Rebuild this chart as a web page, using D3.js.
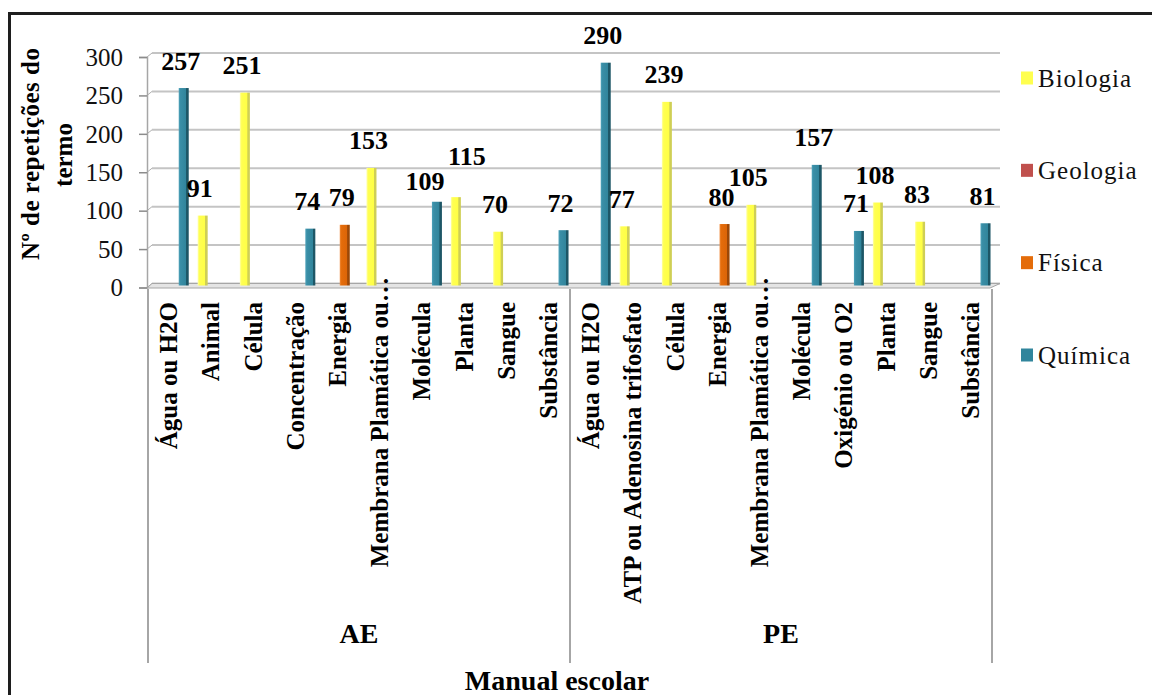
<!DOCTYPE html>
<html>
<head>
<meta charset="utf-8">
<script src="https://cdn.jsdelivr.net/npm/d3@7"></script>
<style>
  body { margin: 0; background: #fff; }
  svg { display: block; }
  text { font-family: "Liberation Serif", "Times New Roman", serif; }
</style>
</head>
<body>
<svg id="chart" width="1152" height="695"></svg>
<script>
// ---- data ----
const manuals = ["AE", "PE"];
const aeTerms = ["Água ou H2O", "Animal", "Célula", "Concentração", "Energia",
  "Membrana Plamática ou…", "Molécula", "Planta", "Sangue", "Substância"];
const peTerms = ["Água ou H2O", "ATP ou Adenosina trifosfato", "Célula", "Energia",
  "Membrana Plamática ou…", "Molécula", "Oxigénio ou O2", "Planta", "Sangue", "Substância"];
const series = ["Biologia", "Geologia", "Física", "Química"];
const aeSubjects = ["Química", "Biologia", "Biologia", "Química", "Física",
  "Biologia", "Química", "Biologia", "Biologia", "Química"];
const aeCounts = [257, 91, 251, 74, 79, 153, 109, 115, 70, 72];
const peSubjects = ["Química", "Biologia", "Biologia", "Física", "Biologia",
  "Química", "Química", "Biologia", "Biologia", "Química"];
const peCounts = [290, 77, 239, 80, 105, 157, 71, 108, 83, 81];
const yTicks = [0, 50, 100, 150, 200, 250, 300];

// ---- styling ----
const colors = { "Biologia": "#ffff4f", "Geologia": "#c0504d", "Física": "#e46c0a", "Química": "#31859c" };
const shades = {
  "Biologia": ["#ffffa8", "#ffff52", "#ffff45", "#cfcf55"],
  "Geologia": ["#d77c7a", "#c0504d", "#b54643", "#7f2f2d"],
  "Física":   ["#f08a3a", "#e46c0a", "#dc6508", "#9c4807"],
  "Química":  ["#4fa3bb", "#3a8ea6", "#31859c", "#1d5666"]
};
const serif = '"Liberation Serif", "Times New Roman", serif';

// flattened rows: one per category position
const rows = [];
aeTerms.forEach((t, i) => rows.push({ manual: "AE", term: t, subject: aeSubjects[i], value: aeCounts[i] }));
peTerms.forEach((t, i) => rows.push({ manual: "PE", term: t, subject: peSubjects[i], value: peCounts[i] }));

// label placement adjustments where labels would collide
const labelShift = { "AE|Molécula": [-9, 7], "AE|Planta": [14, -14] };

const svg = d3.select("#chart");
const defs = svg.append("defs");
series.forEach((s, i) => {
  const g = defs.append("linearGradient").attr("id", "grad" + i)
    .attr("x1", "0").attr("x2", "1").attr("y1", "0").attr("y2", "0");
  const sh = shades[s];
  [[0, sh[0]], [0.18, sh[1]], [0.72, sh[2]], [0.78, sh[3]], [1, sh[3]]].forEach(([o, c]) =>
    g.append("stop").attr("offset", o).attr("stop-color", c));
});

// ---- scales ----
const x = d3.scaleBand().domain(d3.range(rows.length)).range([148, 992]).padding(0);
const xs = d3.scaleBand().domain(series).range([-12.5, 18.5]);
const yFront = d3.scaleLinear().domain([0, 300]).range([287.5, 57]);
const depth = 4; // back wall offset
const yBack = v => yFront(v) - depth;
const yBar = v => yFront(v) - 2;

// outer frame
svg.append("rect").attr("x", 9.5).attr("y", 13.5).attr("width", 1300).attr("height", 900)
  .attr("fill", "none").attr("stroke", "#1e1e1e").attr("stroke-width", 3);

// ---- back wall gridlines ----
const gridG = svg.append("g");
yTicks.forEach(v => {
  gridG.append("line").attr("x1", 152).attr("x2", 1000).attr("y1", yBack(v)).attr("y2", yBack(v))
    .attr("stroke", "#c4c4c4").attr("stroke-width", 2);
  gridG.append("line").attr("x1", 147).attr("x2", 152).attr("y1", yFront(v)).attr("y2", yBack(v))
    .attr("stroke", "#b0b0b0").attr("stroke-width", 1);
});

// floor
svg.append("polygon")
  .attr("points", [[147, 288], [990, 288], [1000, 283.5], [152, 283.5]].map(p => p.join(",")).join(" "))
  .attr("fill", "#e4e4e4").attr("stroke", "#a6a6a6").attr("stroke-width", 1);

// value axis
const yAxis = d3.axisLeft(yFront).tickValues(yTicks).tickSize(8).tickPadding(16);
const yAxisG = svg.append("g").attr("transform", "translate(147,0)").call(yAxis);
yAxisG.select(".domain").attr("stroke", "#a6a6a6").attr("stroke-width", 1.5);
yAxisG.selectAll(".tick line").attr("stroke", "#8c8c8c").attr("stroke-width", 1.5);
yAxisG.selectAll(".tick text").attr("font-family", serif).attr("font-size", 25)
  .attr("fill", "#111").attr("dy", "0.33em");

// ---- bars ----
const barW = 10;
const barX = (d, i) => x(i) + x.bandwidth() / 2 + xs(d.subject) + xs.bandwidth() / 2;
svg.append("g").selectAll("rect").data(rows).join("rect")
  .attr("x", (d, i) => barX(d, i) - barW / 2)
  .attr("y", d => yBar(d.value))
  .attr("width", barW)
  .attr("height", d => yBar(0) - yBar(d.value))
  .attr("fill", d => "url(#grad" + series.indexOf(d.subject) + ")");

// value labels
svg.append("g").selectAll("text").data(rows).join("text")
  .attr("x", (d, i) => barX(d, i) - 3 + ((labelShift[d.manual + "|" + d.term] || [0, 0])[0]))
  .attr("y", d => yBar(d.value) - 18.5 + ((labelShift[d.manual + "|" + d.term] || [0, 0])[1]))
  .attr("text-anchor", "middle")
  .attr("font-size", 26).attr("font-weight", "bold").attr("fill", "#000")
  .text(d => d.value);

// ---- category axis ----
const groupEdges = [x(0), x(aeTerms.length), x(rows.length - 1) + x.bandwidth()];
groupEdges.forEach(gx => {
  svg.append("line").attr("x1", gx).attr("x2", gx).attr("y1", 289).attr("y2", 663)
    .attr("stroke", "#a6a6a6").attr("stroke-width", 2);
});

const catG = svg.append("g");
rows.forEach((d, i) => {
  const cx = x(i) + x.bandwidth() / 2 + 8;
  const trunc = d.term.endsWith("…");
  const main = trunc ? d.term.slice(0, -1) : d.term;
  catG.append("text")
    .attr("transform", `translate(${cx},302) rotate(-90)`)
    .attr("text-anchor", "end")
    .attr("font-size", 25).attr("font-weight", "bold").attr("fill", "#000")
    .text(main);
  if (trunc) {
    catG.append("text")
      .attr("transform", `translate(${cx},302) rotate(-90)`)
      .attr("text-anchor", "start")
      .attr("font-size", 25).attr("font-weight", "bold").attr("fill", "#000")
      .text("…");
  }
});

// group labels
manuals.forEach((m, gi) => {
  const gx = (groupEdges[gi] + groupEdges[gi + 1]) / 2;
  svg.append("text").attr("x", gx).attr("y", 643).attr("text-anchor", "middle")
    .attr("font-size", 28).attr("font-weight", "bold").attr("fill", "#000").text(m);
});

// axis titles
svg.append("text").attr("x", 557).attr("y", 690).attr("text-anchor", "middle")
  .attr("font-size", 28).attr("font-weight", "bold").attr("fill", "#000").text("Manual escolar");

svg.append("text").attr("transform", "translate(39,154) rotate(-90)")
  .attr("text-anchor", "middle").attr("font-size", 25).attr("font-weight", "bold")
  .attr("textLength", 212).attr("lengthAdjust", "spacing").attr("fill", "#000")
  .text("Nº de repetições do");
svg.append("text").attr("transform", "translate(72,155) rotate(-90)")
  .attr("text-anchor", "middle").attr("font-size", 25).attr("font-weight", "bold")
  .attr("fill", "#000").text("termo");

// ---- legend ----
const legY = d3.scalePoint().domain(series).range([78, 355]);
const leg = svg.append("g").selectAll("g").data(series).join("g")
  .attr("transform", d => `translate(1021,${legY(d)})`);
leg.append("rect").attr("x", 0).attr("y", -6.5).attr("width", 12).attr("height", 13)
  .attr("fill", d => colors[d]);
leg.append("text").attr("x", 17).attr("y", 8.5)
  .attr("font-size", 25).attr("letter-spacing", 1).attr("fill", "#111").text(d => d);
</script>
</body>
</html>
